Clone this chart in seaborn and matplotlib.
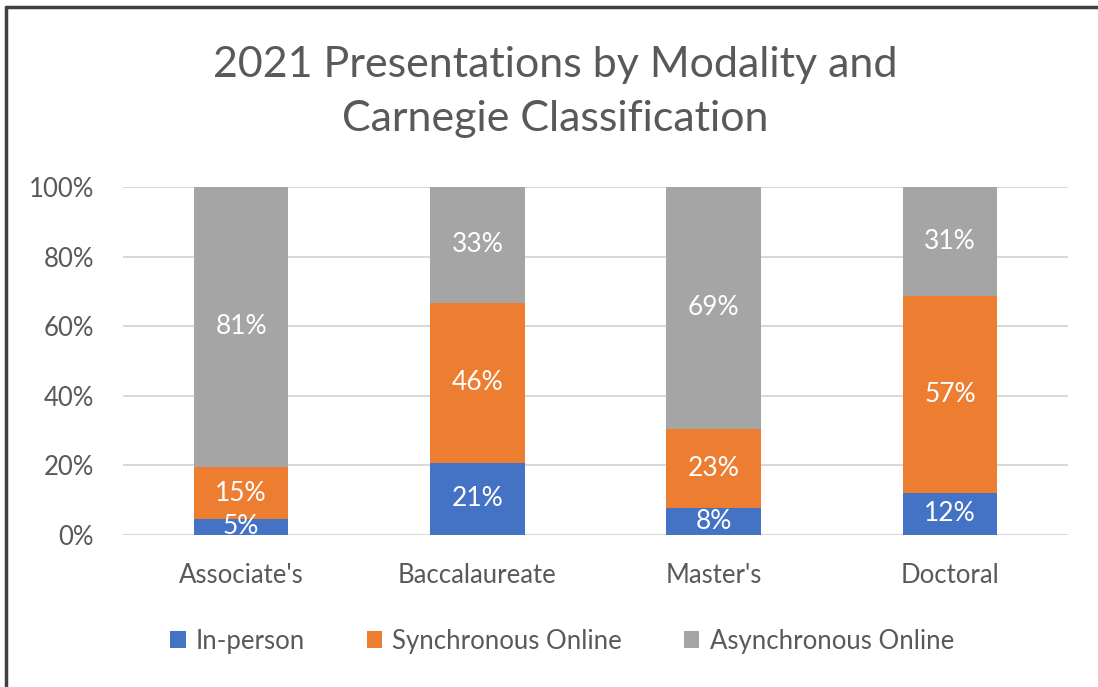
import matplotlib
matplotlib.use("Agg")
import matplotlib.pyplot as plt
import seaborn as sns
import numpy as np
from matplotlib.patches import Patch
from matplotlib.lines import Line2D

categories = ["Associate's", "Baccalaureate", "Master's", "Doctoral"]
in_person = [4.6, 20.7, 7.7, 12.2]
synchronous = [14.9, 46.0, 22.9, 56.6]
asynchronous = [80.6, 33.3, 69.4, 31.2]
series_names = ["In-person", "Synchronous Online", "Asynchronous Online"]
colors = ["#4472C4", "#ED7D31", "#A5A5A5"]
yticks = [0, 20, 40, 60, 80, 100]

sns.set_theme(style="white")
plt.rcParams['font.family'] = ['Lato', 'DejaVu Sans']
txt = "#595959"

fig = plt.figure(figsize=(10.98, 6.87), dpi=100)
ax = fig.add_axes([123/1098, 1-535/687, (1068-123)/1098, (535-187)/687])

series = [in_person, synchronous, asynchronous]
bottoms = np.zeros(len(categories))
tops = []
for vals in series:
    bottoms = bottoms + np.array(vals)
    tops.append(bottoms.copy())

# draw from tallest stack down so the lower segments sit on top
for i in range(2, -1, -1):
    sns.barplot(x=categories, y=tops[i], color=colors[i], width=0.40,
                saturation=1, ax=ax, zorder=3, edgecolor="none")

for i, vals in enumerate(series):
    for j, v in enumerate(vals):
        mid = tops[i][j] - v / 2
        ax.text(j, mid, f"{round(v):d}%", ha="center", va="center",
                color="white", fontsize=19, zorder=5)

ax.set_xlim(-0.5, 3.5)
ax.set_ylim(0, 100)
ax.set_yticks(yticks)
ax.set_yticklabels([f"{t}%" for t in yticks])
ax.yaxis.grid(True, color="#D9D9D9", linewidth=1.5, zorder=0)
ax.set_axisbelow(True)
for s in ax.spines.values():
    s.set_visible(False)
ax.tick_params(axis="both", length=0, labelsize=18.5, colors=txt)
ax.tick_params(axis="x", pad=20)
ax.tick_params(axis="y", pad=21)
ax.set_xlabel("")
ax.set_ylabel("")

fig.text(555/1098, 1-92/687, "2021 Presentations by Modality and\nCarnegie Classification",
         ha="center", va="center", fontsize=31, color=txt, linespacing=1.5)

handles = [Patch(facecolor=c, edgecolor="none") for c in colors]
fig.legend(handles, series_names, loc="center", bbox_to_anchor=(562/1098, 1-641/687),
           ncol=3, frameon=False, fontsize=18.5, labelcolor=txt,
           handlelength=0.6, handleheight=0.6, handletextpad=0.4, columnspacing=2.4)

# outer chart border (top and left visible)
fig.add_artist(Line2D([6/1098, 6/1098], [0, 1-7/687], color="#404040", linewidth=2.5,
                      transform=fig.transFigure))
fig.add_artist(Line2D([6/1098, 1], [1-7/687, 1-7/687], color="#404040", linewidth=2.5,
                      transform=fig.transFigure))

fig.savefig("out.png", dpi=100)
plt.close(fig)
